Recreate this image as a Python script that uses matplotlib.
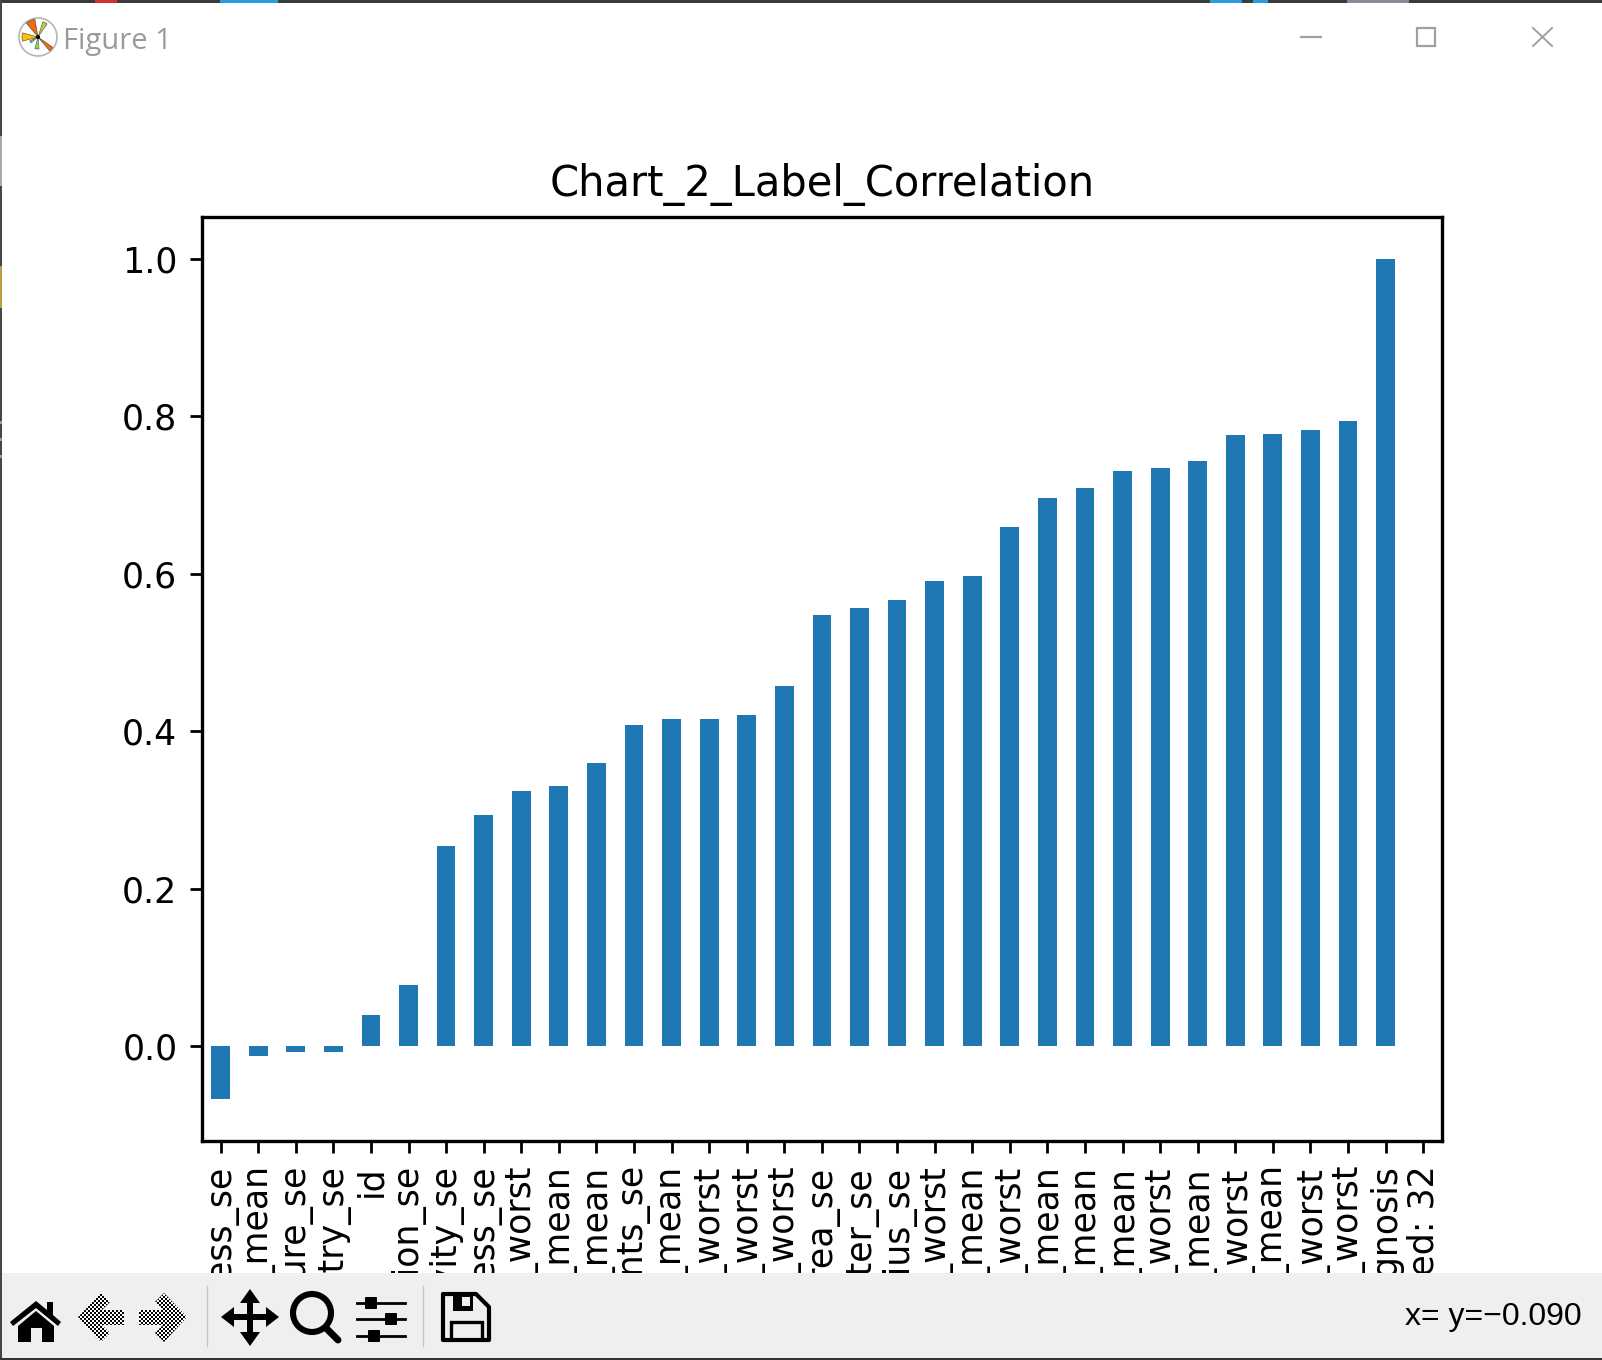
import numpy as np
import matplotlib
matplotlib.use("Agg")
import matplotlib.pyplot as plt
from matplotlib.patches import Circle, Polygon, Rectangle, Wedge, FancyBboxPatch

features = [
    "smoothness_se", "fractal_dimension_mean", "texture_se", "symmetry_se", "id",
    "fractal_dimension_se", "concavity_se", "compactness_se", "fractal_dimension_worst",
    "symmetry_mean", "smoothness_mean", "concave points_se", "texture_mean",
    "symmetry_worst", "smoothness_worst", "texture_worst", "area_se", "perimeter_se",
    "radius_se", "compactness_worst", "compactness_mean", "concavity_worst",
    "concavity_mean", "area_mean", "radius_mean", "area_worst", "perimeter_mean",
    "radius_worst", "concave points_mean", "perimeter_worst", "concave points_worst",
    "diagnosis", "Unnamed: 32",
]
correlation = [
    -0.067, -0.013, -0.008, -0.007, 0.039, 0.078, 0.254, 0.293, 0.324, 0.330, 0.359,
    0.408, 0.415, 0.416, 0.421, 0.457, 0.548, 0.556, 0.567, 0.591, 0.597, 0.660,
    0.696, 0.709, 0.730, 0.734, 0.743, 0.776, 0.777, 0.783, 0.794, 1.000,
]
yticks = [0.0, 0.2, 0.4, 0.6, 0.8, 1.0]

W, H = 1602, 1360
BLUE = "#1f77b4"
GREY = "#a0a0a0"
BAR_BG = "#efefef"

fig = plt.figure(figsize=(W / 100, H / 100), dpi=100, facecolor="white")

# the plot itself
ax = fig.add_axes([201.8 / W, 1 - 1141 / H, (1442 - 201.8) / W, (1141 - 216.7) / H])
ax.bar(range(len(correlation)), correlation, width=0.5, color=BLUE)
ax.set_xlim(-0.5, 32.5)
ax.set_ylim(-0.1206, 1.0536)
ax.set_xticks(range(len(features)))
ax.set_xticklabels(features, rotation=90)
ax.set_yticks(yticks)
ax.set_yticklabels([f"{t:.1f}" for t in yticks])
ax.tick_params(labelsize=25, width=2, length=8.75, pad=8.75)
for s in ax.spines.values():
    s.set_linewidth(2.4)
ax.set_title("Chart_2_Label_Correlation", fontsize=30, pad=15)

# window chrome on top, in pixel coordinates
ui = fig.add_axes([0, 0, 1, 1], zorder=10)
ui.axis("off")
ui.patch.set_alpha(0)

ui.add_patch(Rectangle((0, 0), W, 3, color="#3a3a3e", lw=0))
ui.add_patch(Rectangle((95, 0), 22, 3, color="#d03030", lw=0))
ui.add_patch(Rectangle((220, 0), 58, 3, color="#2a9ce0", lw=0))
ui.add_patch(Rectangle((1210, 0), 32, 3, color="#2a9ce0", lw=0))
ui.add_patch(Rectangle((1253, 0), 15, 3, color="#2a9ce0", lw=0))
ui.add_patch(Rectangle((1347, 0), 62, 3, color="#8a8a98", lw=0))

# left edge of the window
ui.add_patch(Rectangle((0, 0), 2, H, color="#45454a", lw=0))
ui.add_patch(Rectangle((0, 136), 2, 50, color="#aaaaaa", lw=0))
ui.add_patch(Rectangle((0, 266), 2, 42, color="#b8a040", lw=0))
for y in (421, 438, 455):
    ui.add_patch(Rectangle((0, y), 2, 3, color="#999999", lw=0))

# logo
ui.add_patch(Circle((38, 37), 19, fc="white", ec="#b5b5b5", lw=1.2))
for a1, a2, r, c in [(100, 130, 18, "#f26a0c"), (55, 72, 16, "#b5d43a"),
                     (165, 195, 16, "#ffc000"), (255, 275, 12, "#86e060"),
                     (-50, -35, 18, "#f26a0c"), (205, 220, 9, "#70c0b0")]:
    ui.add_patch(Wedge((38, 37), r, -a2, -a1, fc=c, ec="#444444", lw=0.4))
ui.add_patch(Circle((38, 37), 2, color="black", lw=0))
ui.text(63, 41, "Figure 1", fontsize=21, color="#9a9a9a", family="Open Sans", va="center", ha="left")

# window buttons
ui.plot([1301, 1321], [37, 37], color=GREY, lw=1.6)
ui.add_patch(Rectangle((1417, 28), 18, 18, fc="none", ec=GREY, lw=1.6))
ui.plot([1533, 1552], [28, 46], color=GREY, lw=1.4)
ui.plot([1533, 1552], [46, 28], color=GREY, lw=1.4)

# toolbar
ui.add_patch(Rectangle((2, 1273), W, 85, color=BAR_BG, lw=0))
ui.add_patch(Rectangle((0, 1358), W, 2, color="#333333", lw=0))
for x in (207, 423):
    ui.plot([x, x], [1286, 1346], color="#c4c4c4", lw=1)

# home
ui.add_patch(Polygon([(10, 1322), (36, 1301), (47, 1310), (47, 1302), (53, 1302), (53, 1315), (61, 1322),
                      (58, 1326), (36, 1308), (13, 1326)], fc="black", lw=0))
ui.add_patch(Polygon([(18, 1326), (36, 1311), (54, 1326), (54, 1342), (42, 1342), (42, 1328), (31, 1328),
                      (31, 1342), (18, 1342)], fc="black", lw=0))

# back / forward, stippled because they are disabled
checker = np.indices((27, 26)).sum(axis=0) % 2
for pts, x0 in [([(78, 1317), (101, 1293), (110, 1302), (102, 1310), (124, 1310), (124, 1325), (102, 1325),
                  (110, 1333), (101, 1342)], 76),
                ([(187, 1317), (164, 1293), (155, 1302), (163, 1310), (139, 1310), (139, 1325), (163, 1325),
                  (155, 1333), (164, 1342)], 137)]:
    arrow = Polygon(pts, fc="none", lw=0)
    ui.add_patch(arrow)
    im = ui.imshow(checker, cmap="gray", vmin=0, vmax=1, extent=(x0, x0 + 52, 1344, 1290),
                   interpolation="nearest", aspect="auto", zorder=3)
    im.set_clip_path(arrow)

# move
ui.add_patch(Polygon([(250, 1289), (260, 1303), (253, 1303), (253, 1314), (266, 1314), (266, 1307), (279, 1317),
                      (266, 1327), (266, 1320), (253, 1320), (253, 1332), (260, 1332), (250, 1346), (240, 1332),
                      (247, 1332), (247, 1320), (234, 1320), (234, 1327), (221, 1317), (234, 1307), (234, 1314),
                      (247, 1314), (247, 1303), (240, 1303)], fc="black", lw=0))
# zoom
ui.add_patch(Circle((312, 1313), 19, fc="none", ec="black", lw=4.4))
ui.plot([326, 338], [1328, 1340], color="black", lw=5, solid_capstyle="round")
# sliders
for y, x in [(1303, 371), (1319, 391), (1336, 374)]:
    ui.plot([357, 405], [y, y], color="black", lw=2)
    ui.add_patch(FancyBboxPatch((x - 5, y - 5), 10, 10, boxstyle="round,pad=1", fc="black", lw=0))
# save
ui.add_patch(Polygon([(443, 1294), (476, 1294), (489, 1307), (489, 1340), (443, 1340)], closed=True, fc="none",
                     ec="black", lw=3, joinstyle="round"))
ui.add_patch(Rectangle((453, 1295), 20, 16, fc="black", lw=0))
ui.add_patch(Rectangle((462, 1297), 8, 9, fc=BAR_BG, lw=0))
ui.add_patch(Polygon([(451, 1340), (451, 1322), (482, 1322), (482, 1340)], closed=False, fc="none", ec="black", lw=2.4))

ui.text(1582, 1317, "x= y=\u22120.090", fontsize=23, family="Liberation Sans", ha="right", va="center",
        color="black")

ui.set_xlim(0, W)
ui.set_ylim(H, 0)

fig.savefig("out.png", dpi=100)
